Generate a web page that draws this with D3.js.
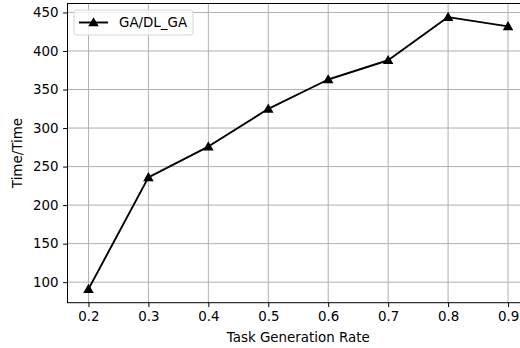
<!DOCTYPE html>
<html>
<head>
<meta charset="utf-8">
<script src="https://cdn.jsdelivr.net/npm/d3@7"></script>
<style>
  body { margin: 0; background: #fff; }
  svg { display: block; font-family: "DejaVu Sans", sans-serif; }
</style>
</head>
<body>
<div id="chart"></div>
<script>
const rates = [0.2, 0.3, 0.4, 0.5, 0.6, 0.7, 0.8, 0.9];
const ratio = [91, 236, 276, 325, 363, 388, 444, 432];
const xTicks = [0.2, 0.3, 0.4, 0.5, 0.6, 0.7, 0.8, 0.9];
const yTicks = [100, 150, 200, 250, 300, 350, 400, 450];
const seriesName = "GA/DL_GA";

const width = 520;
const height = 348;
const plotLeft = 67.5, plotRight = 529, plotTop = 3.5, plotBottom = 302.7;
const fontSize = "13.4px";

const svg = d3.select("#chart")
    .append("svg")
    .attr("width", width)
    .attr("height", height);

// matplotlib-like 5% margins
const xPad = (d3.max(rates) - d3.min(rates)) * 0.05;
const yPad = (d3.max(ratio) - d3.min(ratio)) * 0.05;

const x = d3.scaleLinear()
    .domain([d3.min(rates) - xPad, d3.max(rates) + xPad])
    .range([plotLeft, plotRight]);

const y = d3.scaleLinear()
    .domain([d3.min(ratio) - yPad, d3.max(ratio) + yPad])
    .range([plotBottom, plotTop]);

// grid
svg.append("g")
    .selectAll("line")
    .data(xTicks)
    .enter().append("line")
    .attr("x1", d => x(d)).attr("x2", d => x(d))
    .attr("y1", plotTop).attr("y2", plotBottom)
    .attr("stroke", "#b0b0b0")
    .attr("stroke-width", 1);

svg.append("g")
    .selectAll("line")
    .data(yTicks)
    .enter().append("line")
    .attr("x1", plotLeft).attr("x2", plotRight)
    .attr("y1", d => y(d)).attr("y2", d => y(d))
    .attr("stroke", "#b0b0b0")
    .attr("stroke-width", 1);

// axes
const xAxis = svg.append("g")
    .attr("transform", "translate(0," + plotBottom + ")")
    .call(d3.axisBottom(x).tickValues(xTicks).tickFormat(d3.format(".1f")).tickSize(4.4).tickPadding(4));

const yAxis = svg.append("g")
    .attr("transform", "translate(" + plotLeft + ",0)")
    .call(d3.axisLeft(y).tickValues(yTicks).tickFormat(d3.format("d")).tickSize(4.4).tickPadding(4.5));

[xAxis, yAxis].forEach(a => {
    a.attr("font-family", null).attr("font-size", null);
    a.select(".domain").remove();
    a.selectAll(".tick line").attr("stroke", "#000").attr("stroke-width", 1);
    a.selectAll(".tick text").attr("fill", "#000").style("font-size", fontSize);
});

// spines
svg.append("rect")
    .attr("x", plotLeft).attr("y", plotTop)
    .attr("width", plotRight - plotLeft).attr("height", plotBottom - plotTop)
    .attr("fill", "none")
    .attr("stroke", "#000")
    .attr("stroke-width", 1);

// axis labels
svg.append("text")
    .attr("x", (plotLeft + plotRight) / 2)
    .attr("y", 342)
    .attr("text-anchor", "middle")
    .style("font-size", fontSize)
    .text("Task Generation Rate");

svg.append("text")
    .attr("transform", "translate(22," + (plotTop + plotBottom) / 2 + ") rotate(-90)")
    .attr("text-anchor", "middle")
    .style("font-size", fontSize)
    .text("Time/Time");

// line + markers
const line = d3.line()
    .x((d, i) => x(rates[i]))
    .y(d => y(d));

svg.append("path")
    .datum(ratio)
    .attr("d", line)
    .attr("fill", "none")
    .attr("stroke", "#000")
    .attr("stroke-width", 1.9)
    .attr("stroke-linejoin", "round");

const tri = d3.symbol().type(d3.symbolTriangle).size(48);

svg.append("g")
    .selectAll("path")
    .data(ratio)
    .enter().append("path")
    .attr("d", tri)
    .attr("transform", (d, i) => "translate(" + x(rates[i]) + "," + (y(d) + 0.8) + ")")
    .attr("fill", "#000");

// legend
const legend = svg.append("g");
legend.append("rect")
    .attr("x", 74).attr("y", 10)
    .attr("width", 119).attr("height", 25)
    .attr("rx", 2.5)
    .attr("fill", "#fff")
    .attr("fill-opacity", 0.8)
    .attr("stroke", "#d6d6d6");
legend.append("line")
    .attr("x1", 79).attr("x2", 108)
    .attr("y1", 22.5).attr("y2", 22.5)
    .attr("stroke", "#000")
    .attr("stroke-width", 1.9);
legend.append("path")
    .attr("d", tri)
    .attr("transform", "translate(93.5,23.3)")
    .attr("fill", "#000");
legend.append("text")
    .attr("x", 119).attr("y", 22.5)
    .attr("dy", "0.35em")
    .style("font-size", fontSize)
    .text(seriesName);
</script>
</body>
</html>
